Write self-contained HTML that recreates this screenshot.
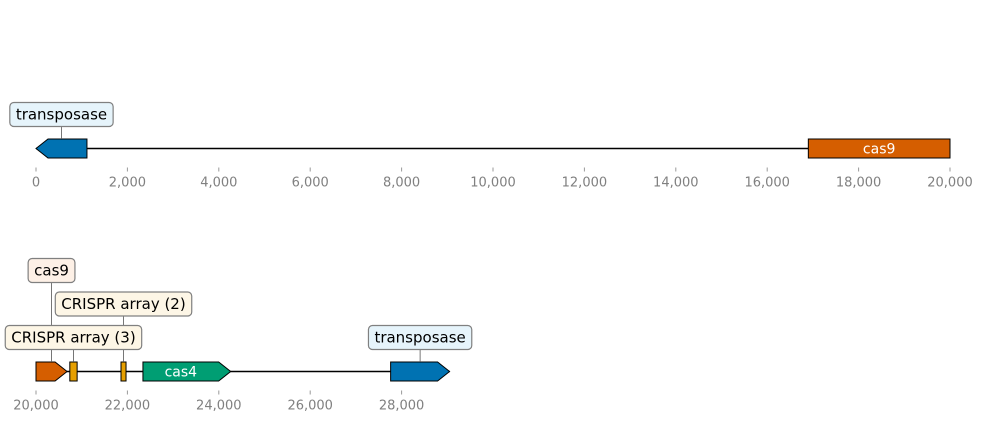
<!DOCTYPE html>
<html><head><meta charset="utf-8"><style>
body{margin:0;background:#fff}
svg text{font-family:"DejaVu Sans","Liberation Sans",sans-serif}
</style></head><body>
<svg id="chart" width="984" height="422" xmlns="http://www.w3.org/2000/svg"></svg>
<script>
// Track 1 data
const t1Range = [0, 20000];
const t1Ticks = [0, 2000, 4000, 6000, 8000, 10000, 12000, 14000, 16000, 18000, 20000];
const t1Names = ["transposase", "cas9"];
const t1Starts = [0, 16900];
const t1Ends = [1115, 20000];
const t1Strands = [-1, 0];
const t1Colors = ["#0072b2", "#d55e00"];
const t1Labels = ["transposase", ""];
const t1Inner = ["", "cas9"];
// Track 2 data
const t2Range = [20000, 29050];
const t2Ticks = [20000, 22000, 24000, 26000, 28000];
const t2Names = ["cas9", "crispr-array-3", "crispr-array-2", "cas4", "transposase"];
const t2Starts = [20000, 20740, 21860, 22340, 27760];
const t2Ends = [20680, 20900, 21970, 24260, 29050];
const t2Strands = [1, 0, 0, 1, 1];
const t2Colors = ["#d55e00", "#e69f00", "#e69f00", "#009e73", "#0072b2"];
const t2Labels = ["cas9", "CRISPR array (3)", "CRISPR array (2)", "", "transposase"];
const t2Inner = ["", "", "", "cas4", ""];
const t2Levels = [2, 0, 1, 0, 0];
const t1Levels = [0, 0];

const svg = document.getElementById('chart');
const NS = "http://www.w3.org/2000/svg";
const pxPerBp = 914 / 20000;
function mk(tag, attrs, parent) {
  const e = document.createElementNS(NS, tag);
  for (const k in attrs) e.setAttribute(k, attrs[k]);
  (parent || svg).appendChild(e);
  return e;
}
const boxFill = { "#0072b2": "#e6f4fb", "#d55e00": "#fdf0e6", "#e69f00": "#fdf6e6", "#009e73": "#e6f6f1" };

function drawTrack(id, range, ticks, names, starts, ends, strands, colors, labels, inner, levels, yLine, x0bp) {
  const g = mk('g', {});
  
  
  const X = bp => 36 + (bp - x0bp) * pxPerBp;
  const line = mk('line', { x1: X(range[0]), x2: X(range[1]), y1: yLine, y2: yLine, stroke: "#000", "stroke-width": 1.6 }, g);
  
  
  ticks.forEach(t => {
    const tl = mk('line', { x1: X(t), x2: X(t), y1: yLine + 19, y2: yLine + 23, stroke: "#999", "stroke-width": 1 }, g);
    
    
    const tx = mk('text', { x: X(t), y: yLine + 38, "text-anchor": "middle", "font-size": 13, fill: "#808080" }, g);
    tx.textContent = t.toLocaleString('en-US');
    
    
  });
  const top = yLine - 9.5, bot = yLine + 9.5;
  names.forEach((n, i) => {
    const a = X(starts[i]), b = X(ends[i]);
    const head = Math.min(12, (b - a) * 0.4);
    let pts;
    if (strands[i] === 1) pts = [[a, top], [b - head, top], [b, yLine], [b - head, bot], [a, bot]];
    else if (strands[i] === -1) pts = [[a, yLine], [a + head, top], [b, top], [b, bot], [a + head, bot]];
    else pts = [[a, top], [b, top], [b, bot], [a, bot]];
    const p = mk('polygon', { points: pts.map(q => q.join(',')).join(' '), fill: colors[i], stroke: "#000", "stroke-width": 1 }, g);
    
    
    if (inner[i]) {
      const t = mk('text', { x: (a + b) / 2 - (strands[i] === 1 ? head / 2 : 0), y: yLine + 5, "text-anchor": "middle", "font-size": 14, fill: "#fff" }, g);
      t.textContent = inner[i];
      
      
    }
  });
  const order = names.map((_, i) => i).filter(i => labels[i]).sort((p, q) => levels[q] - levels[p]);
  order.forEach(i => {
    const cx = (X(starts[i]) + X(ends[i])) / 2;
    const by = yLine - 34 - levels[i] * 33.5;
    const cl = mk('line', { x1: cx, x2: cx, y1: by + 12, y2: top, stroke: "#555", "stroke-width": 0.8 }, g);
    
    
    const r = mk('rect', { x: cx, y: by - 12, width: 10, height: 24, rx: 4, fill: boxFill[colors[i]], stroke: "#808080", "stroke-width": 1.2 }, g);
    
    
    const t = mk('text', { x: cx, y: by + 5, "text-anchor": "middle", "font-size": 15, fill: "#000" }, g);
    t.textContent = labels[i];
    
    
    const w = t.getComputedTextLength() + 12;
    r.setAttribute('x', cx - w / 2);
    r.setAttribute('width', w);
  });
}
drawTrack('track-1', t1Range, t1Ticks, t1Names, t1Starts, t1Ends, t1Strands, t1Colors, t1Labels, t1Inner, t1Levels, 148.5, 0);
drawTrack('track-2', t2Range, t2Ticks, t2Names, t2Starts, t2Ends, t2Strands, t2Colors, t2Labels, t2Inner, t2Levels, 371.5, 20000);
</script>
</body></html>
